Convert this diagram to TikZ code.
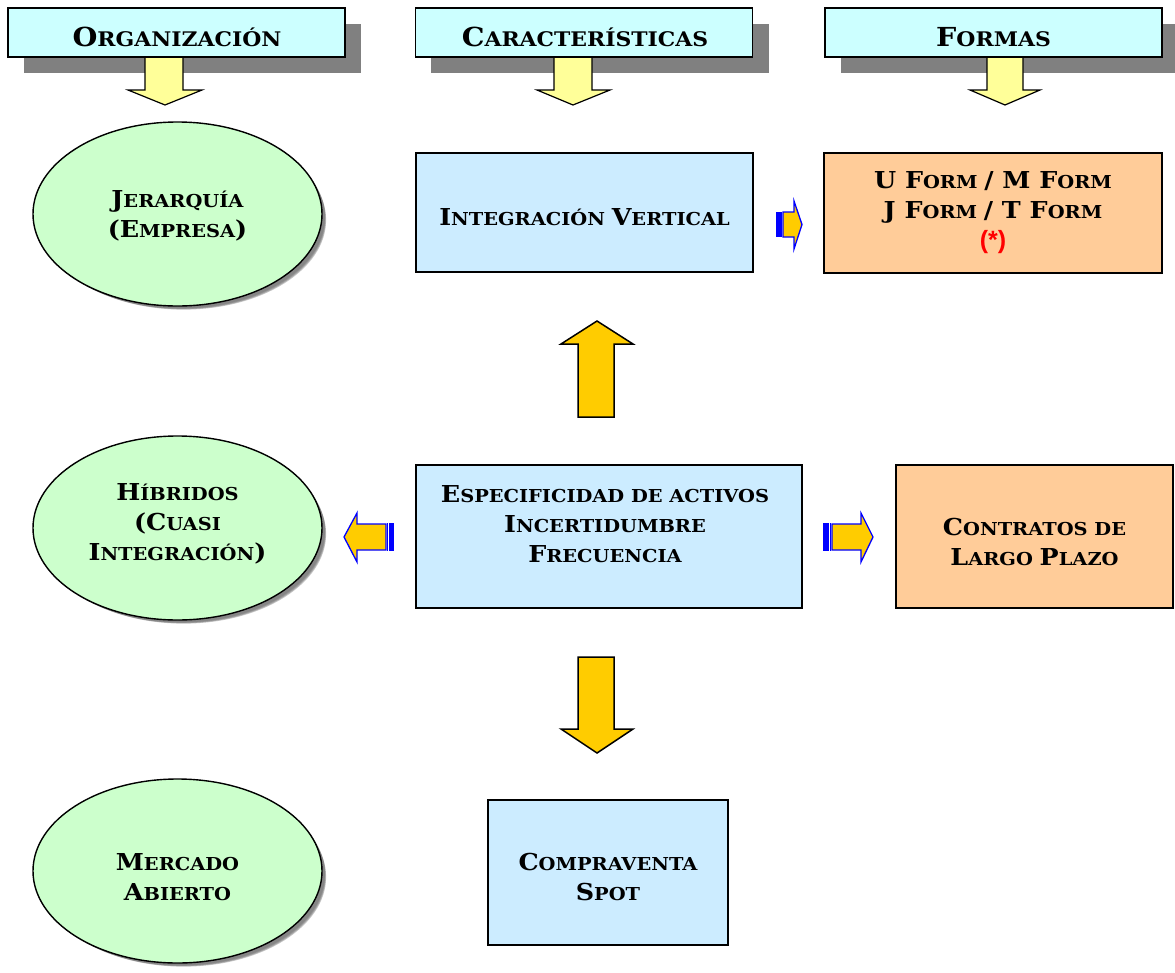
\documentclass[tikz,border=0pt]{standalone}
\usepackage{fontspec}
\setmainfont{DejaVu Serif}[FakeStretch=1.09]
\newfontfamily\arialb{Liberation Sans}
\definecolor{hdr}{HTML}{CCFFFF}
\definecolor{grn}{HTML}{CCFFCC}
\definecolor{blu}{HTML}{CCECFF}
\definecolor{org}{HTML}{FFCC99}
\definecolor{lyel}{HTML}{FFFF99}
\definecolor{gold}{HTML}{FFCC00}
\definecolor{shd}{HTML}{808080}
\definecolor{arblue}{HTML}{0000FF}
\newcommand\C[1]{{\fontsize{23.3}{30}\selectfont #1}}
\newcommand\HC[1]{{\fontsize{26.2}{30}\selectfont #1}}
\usetikzlibrary{calc,shapes.geometric}
\tikzset{
  txt/.style={font=\bfseries\fontsize{17.8}{30}\selectfont, align=center, inner sep=0pt},
  htxt/.style={font=\bfseries\fontsize{20.1}{30}\selectfont, align=center, inner sep=0pt},
  hdrbox/.style={draw=black, line width=1.5pt, fill=hdr, minimum width=337pt, minimum height=49pt, inner sep=0pt},
  bbox/.style={draw=black, line width=1.5pt, fill=blu, inner sep=0pt},
  obox/.style={draw=black, line width=1.5pt, fill=org, inner sep=0pt},
  ell/.style={ellipse, draw=black, line width=1.4pt, fill=grn, minimum width=289pt, minimum height=184pt, inner sep=0pt},
  yarrow/.style={draw=black, line width=1.2pt, fill=lyel, line join=miter},
  garrow/.style={draw=black, line width=1.5pt, fill=gold, line join=miter},
  sarrow/.style={draw=arblue, line width=1.3pt, fill=gold, line join=miter},
}
\begin{document}
\begin{tikzpicture}[x=1pt,y=-1pt]
\useasboundingbox (0,0) rectangle (1175,972);
\fill[white] (0,0) rectangle (1175,972);

% header shadows
\fill[shd] (24,24) rectangle (361,73);
\fill[shd] (431,24) rectangle (769,73);
\fill[shd] (841,24) rectangle (1176,73);

% header arrows
\draw[yarrow] (145,50) -- (183,50) -- (183,90) -- (202,90) -- (165,105) -- (128,90) -- (145,90) -- cycle;
\draw[yarrow] (554,50) -- (592,50) -- (592,90) -- (610,90) -- (573,105) -- (537,90) -- (554,90) -- cycle;
\draw[yarrow] (987,50) -- (1023,50) -- (1023,90) -- (1040,90) -- (1005,105) -- (970,90) -- (987,90) -- cycle;

% headers
\node[hdrbox] (h1) at (176.5,32.5) {};
\node[htxt] at (177,37) {\HC{O}RGANIZACIÓN};
\node[hdrbox] (h2) at (584,32.5) {};
\node[htxt] at (585,37) {\HC{C}ARACTERÍSTICAS};
\node[hdrbox] (h3) at (993.5,32.5) {};
\node[htxt] at (993.5,37) {\HC{F}ORMAS};

% ellipses
\coordinate (c1) at (177.5,214);
\coordinate (c2) at (177.5,528);
\coordinate (c3) at (177.5,871);
\foreach \c in {c1,c2,c3}{
  \foreach \k/\o in {1/0.08,2/0.12,3/0.16,4/0.22}{
    \fill[black, opacity=\o] ($(\c)+(2+\k,2+\k)$) ellipse[x radius=145-\k*0.6, y radius=92-\k*0.6];}}
\node[ell] (e1) at (c1) {};
\node[txt] at ($(c1)+(0,2)$) {\C{J}ERARQUÍA\\\C{(E}MPRESA\C{)}};
\node[ell] (e2) at (c2) {};
\node[txt] at ($(c2)+(0,-4)$) {\C{H}ÍBRIDOS\\\C{(C}UASI\\\C{I}NTEGRACIÓN\C{)}};
\node[ell] (e3) at (c3) {};
\node[txt] at ($(c3)+(0,6)$) {\C{M}ERCADO\\\C{A}BIERTO};

% blue boxes
\node[bbox, minimum width=337pt, minimum height=119pt] (iv) at (584.5,212.5) {};
\node[txt] at ($(iv.center)+(0,5)$) {\C{I}NTEGRACIÓN \C{V}ERTICAL};
\node[bbox, minimum width=386pt, minimum height=143pt] (esp) at (609,536.5) {};
\node[txt] at ($(esp.center)+(-4,-12)$) {\C{E}SPECIFICIDAD DE ACTIVOS\\\C{I}NCERTIDUMBRE\\\C{F}RECUENCIA};
\node[bbox, minimum width=240pt, minimum height=145pt] (cv) at (608,872.5) {};
\node[txt] at ($(cv.center)+(0,5)$) {\C{C}OMPRAVENTA\\\C{S}POT};

% orange boxes
\node[obox, minimum width=338pt, minimum height=120pt] (uf) at (993,213) {};
\node[txt] at ($(uf.center)+(0,0)$) {\C{U F}ORM \C{/ M F}ORM\\\C{J F}ORM \C{/ T F}ORM\\{\arialb\fontsize{25}{30}\selectfont\color{red}(*)}};
\node[obox, minimum width=277pt, minimum height=143pt] (ct) at (1034.5,536.5) {};
\node[txt] at ($(ct.center)+(0,5)$) {\C{C}ONTRATOS DE\\\C{L}ARGO \C{P}LAZO};

% big arrows
\draw[garrow] (578,417) -- (614,417) -- (614,344) -- (633,344) -- (597,321) -- (561,344) -- (578,344) -- cycle;
\draw[garrow] (578,657) -- (614,657) -- (614,729) -- (633,729) -- (597,753) -- (561,729) -- (578,729) -- cycle;

% small striped arrows
\fill[arblue] (776,212) rectangle (782,237);
\draw[sarrow] (783,212) -- (794,212) -- (794,201) -- (802,224.5) -- (794,249) -- (794,237) -- (783,237) -- cycle;
\draw[sarrow] (386,524) -- (357,524) -- (357,513) -- (344,537) -- (357,562) -- (357,550) -- (386,550) -- cycle;
\fill[arblue] (389,523.3) rectangle (393.5,550.7);
\draw[arblue, line width=0.8pt] (387.2,523.3) -- (387.2,550.7);
\fill[arblue] (823,523.3) rectangle (828.5,550.7);
\draw[arblue, line width=0.8pt] (830.3,523.3) -- (830.3,550.7);
\draw[sarrow] (832,524) -- (861,524) -- (861,513) -- (873,537) -- (861,562) -- (861,550) -- (832,550) -- cycle;
\end{tikzpicture}
\end{document}
